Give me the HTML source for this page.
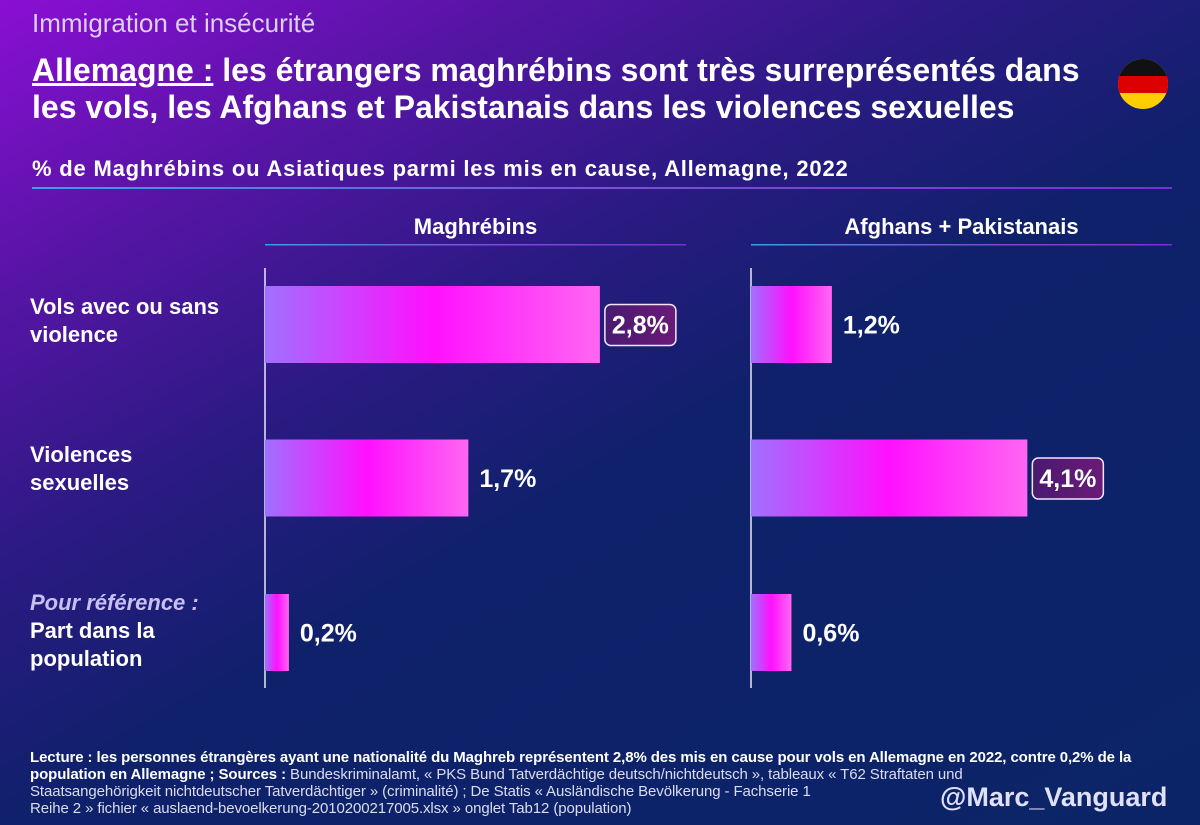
<!DOCTYPE html>
<html><head><meta charset="utf-8"><style>
html,body{margin:0;padding:0;width:1200px;height:825px;overflow:hidden}
body{font-family:"Liberation Sans",sans-serif;color:#fff;position:relative;
background:linear-gradient(150deg,#8a0fd4 0%,#5a14a8 18%,#2a1a82 38%,#0e216a 55%,#0b2468 100%)}
.abs{position:absolute;white-space:nowrap}
</style></head><body>
<div class="abs" style="left:32px;top:8px;font-size:26px;color:#ddd0f2">Immigration et insécurité</div>
<div class="abs" style="left:32px;top:52px;font-size:32px;font-weight:bold;line-height:37px;letter-spacing:0px"><span style="text-decoration:underline">Allemagne :</span> les étrangers maghrébins sont très surreprésentés dans<br>les vols, les Afghans et Pakistanais dans les violences sexuelles</div>
<div class="abs" style="left:32px;top:156px;font-size:22px;font-weight:bold;letter-spacing:0.8px">% de Maghrébins ou Asiatiques parmi les mis en cause, Allemagne, 2022</div>
<svg class="abs" style="left:0;top:0" width="1200" height="825">
<defs>
<linearGradient id="barg" x1="0" x2="1" y1="0" y2="0">
<stop offset="0" stop-color="#a070ff"/><stop offset="0.5" stop-color="#ff10ff"/><stop offset="1" stop-color="#ff66f2"/></linearGradient>
<linearGradient id="lineg" x1="0" x2="1"><stop offset="0" stop-color="#3aa0e0"/><stop offset="0.5" stop-color="#7a50d8"/><stop offset="1" stop-color="#7a30d0"/></linearGradient>
<linearGradient id="boxg" x1="0" x2="1"><stop offset="0" stop-color="#4a1a70"/><stop offset="1" stop-color="#6a1a78"/></linearGradient>
</defs>
<rect x="32" y="187" width="1140" height="2" fill="url(#lineg)"/>
<circle cx="1143" cy="84" r="25" fill="#ffce00"/>
<clipPath id="fc"><circle cx="1143" cy="84" r="25"/></clipPath>
<rect x="1118" y="59" width="50" height="17" fill="#111" clip-path="url(#fc)"/>
<rect x="1118" y="76" width="50" height="17" fill="#dd0000" clip-path="url(#fc)"/>
<g id="g"></g>
</svg>
<div class="abs" style="left:30px;top:293px;font-size:22px;font-weight:bold;line-height:28px">Vols avec ou sans<br>violence</div>
<div class="abs" style="left:30px;top:441px;font-size:22px;font-weight:bold;line-height:28px">Violences<br>sexuelles</div>
<div class="abs" style="left:30px;top:589px;font-size:22px;font-weight:bold;line-height:28px"><i style="color:#c8c0f0">Pour référence :</i><br>Part dans la<br>population</div>
<div class="abs" style="left:30px;top:749px;font-size:15px;line-height:17px;color:#dcdcf0;letter-spacing:-0.1px"><b style="color:#fff">Lecture : les personnes étrangères ayant une nationalité du Maghreb représentent 2,8% des mis en cause pour vols en Allemagne en 2022, contre 0,2% de la<br>population en Allemagne ; Sources :</b> Bundeskriminalamt, « PKS Bund Tatverdächtige deutsch/nichtdeutsch », tableaux « T62 Straftaten und<br>Staatsangehörigkeit nichtdeutscher Tatverdächtiger » (criminalité) ; De Statis « Ausländische Bevölkerung - Fachserie 1<br>Reihe 2 » fichier « auslaend-bevoelkerung-2010200217005.xlsx » onglet Tab12 (population)</div>
<div class="abs" style="left:940px;top:782px;font-size:27px;font-weight:bold;color:#e0e0f8">@Marc_Vanguard</div>
<script>
const categories=["Vols avec ou sans violence","Violences sexuelles","Part dans la population"];
const panels=["Maghrébins","Afghans + Pakistanais"];
const maghrebValues=[2.8,1.7,0.2];
const afghanValues=[1.2,4.1,0.6];
const maghrebLabels=["2,8%","1,7%","0,2%"];
const afghanLabels=["1,2%","4,1%","0,6%"];
const highlight=[[0],[1]];
const NS="http://www.w3.org/2000/svg";
const g=document.getElementById('g');
function mk(t,a){const e=document.createElementNS(NS,t);for(const k in a)e.setAttribute(k,a[k]);g.appendChild(e);return e;}
const cfg=[{x0:265,scale:119.6,hx:265,hw:421,vals:maghrebValues,labs:maghrebLabels},
{x0:751,scale:67.4,hx:751,hw:421,vals:afghanValues,labs:afghanLabels}];
const rowY=[286,439.5,594], barH=77;
cfg.forEach((c,p)=>{
  const t=mk('text',{x:c.hx+c.hw/2,y:234,'text-anchor':'middle','font-size':22,'font-weight':'bold',fill:'#fff'});
  t.textContent=panels[p];
  
  
  const r=mk('rect',{x:c.hx,y:244,width:c.hw,height:1.5,fill:'url(#lineg)'});
  
  
  const ax=mk('line',{x1:c.x0,x2:c.x0,y1:268,y2:688,stroke:'#e8e8f8','stroke-width':1.5});
  
  
  c.vals.forEach((v,i)=>{
    const w=v*c.scale, y=rowY[i];
    const b=mk('rect',{x:c.x0,y:y,width:w,height:barH,fill:'url(#barg)'});
    
    
    const hl=highlight[p].includes(i);
    const lx=c.x0+w+(hl?5:11), cy=y+barH/2;
    if(hl){
      const bx=mk('rect',{x:lx,y:cy-20,width:71,height:41,rx:6,fill:'url(#boxg)',stroke:'#f0e8f8','stroke-width':1.5});
      
      
    }
    const tx=mk('text',{x:hl?lx+35.5:lx,y:cy+9,'text-anchor':hl?'middle':'start','font-size':25,'font-weight':'bold',fill:'#fff'});
    tx.textContent=c.labs[i];
    
    
  });
});
</script>
</body></html>
